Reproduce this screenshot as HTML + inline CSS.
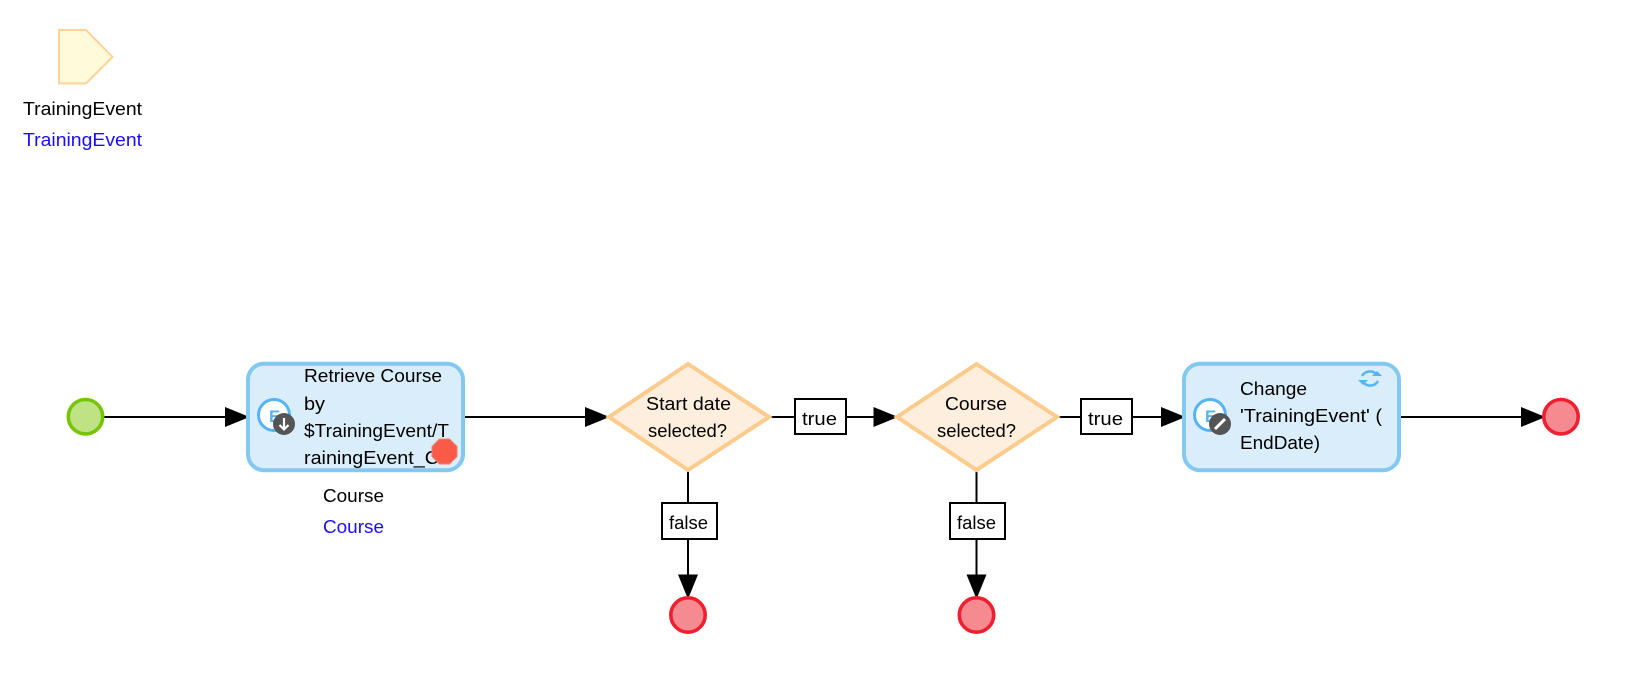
<!DOCTYPE html>
<html><head><meta charset="utf-8"><style>
html,body{margin:0;padding:0;background:#fff}
svg{display:block}
text{font-family:"Liberation Sans",sans-serif;font-size:18px;fill:#000}
.b{fill:#1a0dff}
.blk{fill:none;stroke:#000;stroke-width:2}
.lbl{fill:#fff;stroke:#000;stroke-width:2}
.act{fill:#d9edfa;stroke:#82c8f0;stroke-width:4}
.dia{fill:#feeedd;stroke:#fdcb8c;stroke-width:4}
.end{fill:#f58a90;stroke:#ee2030;stroke-width:3.6}
</style></head><body>
<svg width="1634" height="676" viewBox="0 0 1634 676" xmlns="http://www.w3.org/2000/svg">
<rect width="1634" height="676" fill="#fff"/>

<polygon points="59,30 86,30 112.500,57 86,83.500 59,83.500" fill="#fffad9" stroke="#fdd39a" stroke-width="2"/>
<text x="23" y="115" textLength="119" lengthAdjust="spacingAndGlyphs">TrainingEvent</text>
<text class="b" x="23" y="146" textLength="119" lengthAdjust="spacingAndGlyphs">TrainingEvent</text>

<path class="blk" d="M104 417H230M463 417H590M768 417H794M846 417H878M1056 417H1081M1133 417H1165M1399 417H1525M688 469V503M688 539V580M976.500 469V503M976.500 539V580"/>
<g fill="#000">
<polygon points="249.500,417 225,407 225,427"/>
<polygon points="609.500,417 585,407 585,427"/>
<polygon points="898,417 873.500,407 873.500,427"/>
<polygon points="1185.500,417 1161,407 1161,427"/>
<polygon points="1545.500,417 1521,407 1521,427"/>
<polygon points="688,599 678,574.500 698,574.500"/>
<polygon points="976.500,599 966.500,574.500 986.500,574.500"/>
</g>

<circle cx="85.500" cy="416.700" r="17.200" fill="#bfe384" stroke="#76c404" stroke-width="3.6"/>

<rect class="act" x="248" y="363.700" width="215" height="106.500" rx="16"/>
<circle cx="274" cy="415" r="15.500" fill="#fff" stroke="#55b4f5" stroke-width="3"/>
<text x="269" y="422" style="font-size:17px;font-weight:bold;fill:#55b4f5">E</text>
<circle cx="284" cy="424" r="11" fill="#555"/>
<path d="M284 418V429M279.500 425L284 429.500L288.500 425" fill="none" stroke="#fff" stroke-width="2.200"/>
<text x="304" y="382" textLength="138" lengthAdjust="spacingAndGlyphs">Retrieve Course</text>
<text x="304" y="410" textLength="21" lengthAdjust="spacingAndGlyphs">by</text>
<text x="304" y="437" textLength="145" lengthAdjust="spacingAndGlyphs">$TrainingEvent/T</text>
<text x="304" y="464" textLength="146" lengthAdjust="spacingAndGlyphs">rainingEvent_Co</text>
<polygon points="439.500,439 449.500,439 457,446.500 457,456.500 449.500,464 439.500,464 432,456.500 432,446.500" fill="#fa5a46" stroke="#f08070" stroke-width="1"/>
<text x="323" y="502" textLength="61" lengthAdjust="spacingAndGlyphs">Course</text>
<text class="b" x="323" y="533" textLength="61" lengthAdjust="spacingAndGlyphs">Course</text>

<polygon class="dia" points="688,364 769,417 688,470 609,417"/>
<text x="646" y="410" textLength="85" lengthAdjust="spacingAndGlyphs">Start date</text>
<text x="648" y="437" textLength="79" lengthAdjust="spacingAndGlyphs">selected?</text>
<rect class="lbl" x="795" y="399" width="51" height="35"/>
<text x="802" y="425" textLength="35" lengthAdjust="spacingAndGlyphs">true</text>
<rect class="lbl" x="662" y="503" width="55" height="36"/>
<text x="669" y="529" textLength="39" lengthAdjust="spacingAndGlyphs">false</text>
<circle class="end" cx="688" cy="615" r="17.200"/>

<polygon class="dia" points="976.500,364 1057,417 976.500,470 897,417"/>
<text x="945" y="410" textLength="62" lengthAdjust="spacingAndGlyphs">Course</text>
<text x="937" y="437" textLength="79" lengthAdjust="spacingAndGlyphs">selected?</text>
<rect class="lbl" x="1081" y="399" width="51" height="35"/>
<text x="1088" y="425" textLength="35" lengthAdjust="spacingAndGlyphs">true</text>
<rect class="lbl" x="950" y="503" width="55" height="36"/>
<text x="957" y="529" textLength="39" lengthAdjust="spacingAndGlyphs">false</text>
<circle class="end" cx="976.500" cy="615" r="17.200"/>

<rect class="act" x="1184" y="363.700" width="215" height="106.500" rx="16"/>
<circle cx="1210" cy="415" r="15.500" fill="#fff" stroke="#55b4f5" stroke-width="3"/>
<text x="1205" y="422" style="font-size:17px;font-weight:bold;fill:#55b4f5">E</text>
<circle cx="1220" cy="424" r="11" fill="#555"/>
<path d="M1215 429L1225 419" fill="none" stroke="#fff" stroke-width="3"/>
<text x="1240" y="395" textLength="67" lengthAdjust="spacingAndGlyphs">Change</text>
<text x="1240" y="422" textLength="142" lengthAdjust="spacingAndGlyphs">'TrainingEvent' (</text>
<text x="1240" y="449" textLength="80" lengthAdjust="spacingAndGlyphs">EndDate)</text>
<g fill="none" stroke="#55b4f5" stroke-width="2.500">
<path d="M1362 376A9 9 0 0 1 1377 375"/>
<path d="M1378 381A9 9 0 0 1 1363 382"/>
</g>
<polygon points="1382,376 1372,376 1377,371" fill="#55b4f5"/>
<polygon points="1358,380 1368,380 1363,385" fill="#55b4f5"/>

<circle class="end" cx="1561" cy="416.700" r="17.200"/>
</svg>
</body></html>
